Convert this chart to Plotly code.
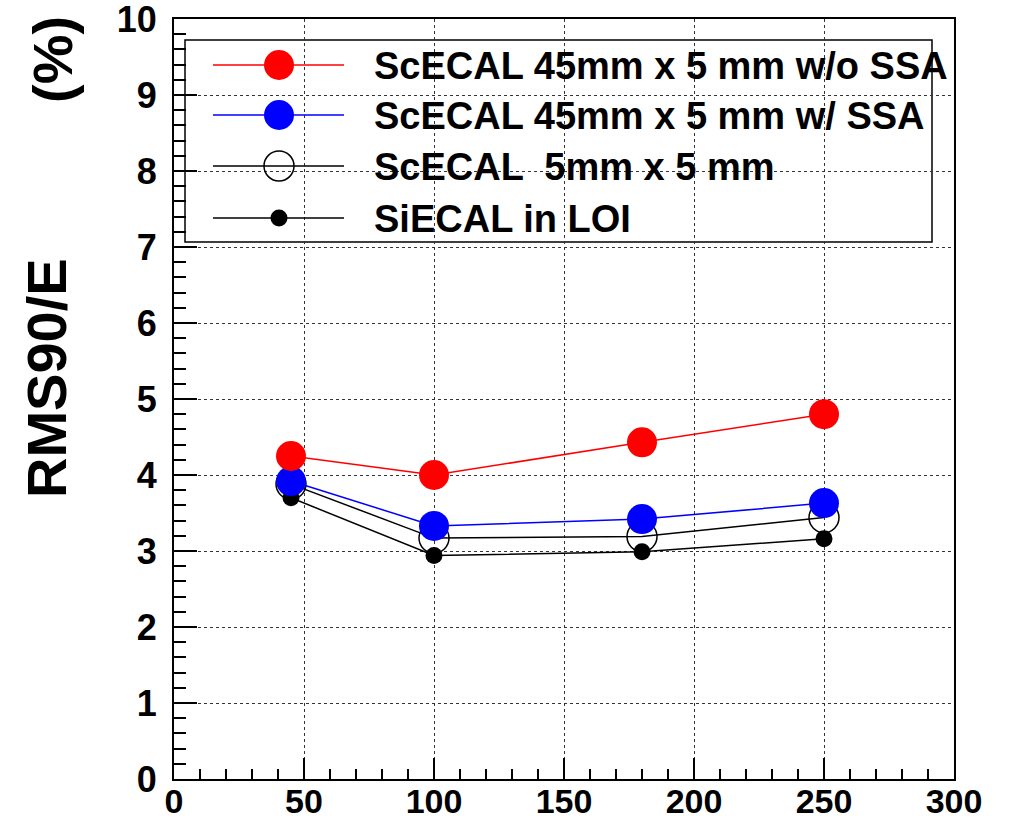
import plotly.graph_objects as go

# ---- data ----
energies = [45, 100, 180, 250]
sc45_wo_ssa = [4.25, 4.00, 4.43, 4.80]
sc45_w_ssa = [3.92, 3.33, 3.42, 3.63]
sc5x5 = [3.88, 3.17, 3.19, 3.44]
si_loi = [3.70, 2.94, 2.99, 3.16]

names = ["ScECAL 45mm x 5 mm w/o SSA", "ScECAL 45mm x 5 mm w/ SSA",
         "ScECAL  5mm x 5 mm", "SiECAL in LOI"]

x_ticks = [0, 50, 100, 150, 200, 250, 300]
y_ticks = [0, 1, 2, 3, 4, 5, 6, 7, 8, 9, 10]

FONT = "Liberation Sans, Arial, Helvetica, sans-serif"

# plot area in pixels
W, H = 1014, 823
L, R, T, B = 174, 954, 19, 779

styles = [
    dict(line=dict(color="#ff0000", width=1.5), marker=dict(symbol="circle", size=30, color="#ff0000")),
    dict(line=dict(color="#0000ff", width=1.5), marker=dict(symbol="circle", size=30, color="#0000ff")),
    dict(line=dict(color="black", width=1.5), marker=dict(symbol="circle-open", size=30, color="black", line=dict(width=1.5, color="black"))),
    dict(line=dict(color="black", width=1.5), marker=dict(symbol="circle", size=17, color="black")),
]
series = [sc45_wo_ssa, sc45_w_ssa, sc5x5, si_loi]

fig = go.Figure()
# draw order: black dots, open circles, blue, red (red on top)
for i in [3, 2, 1, 0]:
    fig.add_trace(go.Scatter(x=energies, y=series[i], mode="lines+markers",
                             name=names[i], showlegend=False,
                             line=styles[i]["line"], marker=styles[i]["marker"],
                             cliponaxis=False))

# ---- manual ROOT-style legend on a pixel overlay axis ----
leg_rows = [65, 115, 166, 218]
line_x0, line_x1, mark_x, text_x = 213, 344, 279, 372
for i, yy in enumerate(leg_rows):
    fig.add_trace(go.Scatter(x=[line_x0, line_x1], y=[yy, yy], mode="lines",
                             line=styles[i]["line"], showlegend=False,
                             xaxis="x2", yaxis="y2", hoverinfo="skip"))
    fig.add_trace(go.Scatter(x=[mark_x], y=[yy], mode="markers",
                             marker=styles[i]["marker"], showlegend=False,
                             xaxis="x2", yaxis="y2", hoverinfo="skip"))

def px_x(p):
    return (p - L) / (R - L)

def px_y(p):
    return (B - p) / (B - T)

annotations = []
for i, yy in enumerate(leg_rows):
    annotations.append(dict(text=names[i], xref="paper", yref="paper",
                            x=px_x(text_x), y=px_y(yy + 1), xanchor="left", yanchor="middle",
                            showarrow=False,
                            font=dict(family=FONT, size=38, color="black", weight="bold")))

# y-axis title pieces
annotations.append(dict(text="RMS90/E", xref="paper", yref="paper",
                        x=px_x(46), y=px_y(378), xanchor="center", yanchor="middle",
                        textangle=-90, showarrow=False,
                        font=dict(family=FONT, size=56, color="black", weight="bold")))
annotations.append(dict(text="(%)", xref="paper", yref="paper",
                        x=px_x(52), y=px_y(60), xanchor="center", yanchor="middle",
                        textangle=-90, showarrow=False,
                        font=dict(family=FONT, size=56, color="black", weight="bold")))

shapes = [dict(type="rect", xref="paper", yref="paper",
               x0=px_x(185), x1=px_x(932), y0=px_y(242), y1=px_y(40),
               line=dict(color="black", width=1.5), fillcolor="white", layer="below")]

ytickfont = dict(family=FONT, size=36, color="black", weight="bold")
xtickfont = dict(family=FONT, size=34, color="black", weight="bold")

fig.update_layout(
    width=W, height=H,
    margin=dict(l=L, r=W - R, t=T, b=H - B, pad=0),
    paper_bgcolor="white", plot_bgcolor="white",
    showlegend=False,
    annotations=annotations,
    shapes=shapes,
    xaxis=dict(range=[0, 300], tickmode="array", tickvals=x_ticks,
               ticktext=[str(v) for v in x_ticks], showgrid=True,
               gridcolor="#333333", griddash="dot", gridwidth=1,
               showline=True, linecolor="black", linewidth=2, mirror=True,
               ticks="inside", ticklen=21, tickwidth=1.5, tickcolor="black",
               minor=dict(dtick=10, ticks="inside", ticklen=10, tickwidth=1.5,
                          tickcolor="black", showgrid=False),
               tickfont=xtickfont, zeroline=False, automargin=False,
               ticklabelstandoff=-9),
    yaxis=dict(range=[0, 10], tickmode="array", tickvals=y_ticks,
               ticktext=[str(v) for v in y_ticks], showgrid=True,
               gridcolor="#333333", griddash="dot", gridwidth=1,
               showline=True, linecolor="black", linewidth=2, mirror=True,
               ticks="inside", ticklen=23, tickwidth=1.5, tickcolor="black",
               minor=dict(dtick=0.2, ticks="inside", ticklen=12, tickwidth=1.5,
                          tickcolor="black", showgrid=False),
               tickfont=ytickfont, zeroline=False, ticklabelstandoff=8,
               automargin=False, ticklabeloverflow="allow"),
    xaxis2=dict(range=[L, R], overlaying="x", visible=False, fixedrange=True),
    yaxis2=dict(range=[B, T], overlaying="y", visible=False, fixedrange=True),
)

fig.write_html("out.html")
